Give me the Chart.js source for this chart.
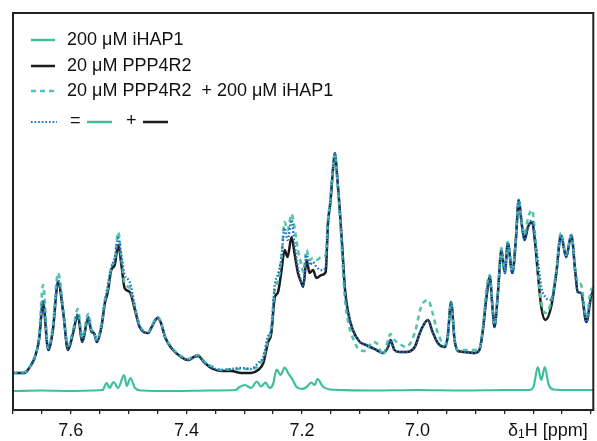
<!DOCTYPE html>
<html>
<head>
<meta charset="utf-8">
<script src="https://cdn.jsdelivr.net/npm/chart.js@4/dist/chart.umd.min.js"></script>
<style>
html,body{margin:0;padding:0;background:#fff;}
#wrap{width:597px;height:441px;}
</style>
</head>
<body>
<div id="wrap"><canvas id="c" width="597" height="441"></canvas></div>
<script>
// ---- data (chemical shift in ppm, intensity in arbitrary units) ----
const ppm = [7.700,7.680,7.671,7.662,7.655,7.648,7.639,7.631,7.622,7.613,7.605,7.596,7.588,7.580,7.570,7.564,7.560,7.555,7.547,7.541,
7.536,7.530,7.524,7.518,7.512,7.507,7.498,7.489,7.481,7.466,7.460,7.450,7.444,7.437,7.426,7.409,7.397,7.387,7.380,7.368,
7.354,7.339,7.322,7.305,7.288,7.276,7.267,7.259,7.253,7.247,7.242,7.236,7.230,7.225,7.218,7.213,7.207,7.201,7.198,7.192,
7.187,7.181,7.175,7.166,7.159,7.155,7.151,7.146,7.143,7.140,7.135,7.130,7.126,7.120,7.112,7.100,7.089,7.078,7.071,7.060,
7.051,7.047,7.040,7.031,7.020,7.005,6.994,6.982,6.974,6.965,6.953,6.948,6.942,6.936,6.930,6.919,6.901,6.893,6.887,6.881,
6.875,6.871,6.867,6.861,6.855,6.849,6.844,6.836,6.830,6.825,6.820,6.815,6.809,6.802,6.796,6.792,6.786,6.779,6.769,6.760,
6.752,6.743,6.734,6.727,6.723,6.717,6.708,6.700,6.696];

const ppp4r2 = [37,37,43,53,70,107,60,80,128,97,60,77,95,68,92,78,77,68,83,107,
118,140,145,165,143,122,118,100,83,77,83,92,87,73,62,53,50,53,54,47,
41,39,39,37,37,40,47,67,77,113,117,137,160,153,173,157,137,127,123,150,
137,140,132,135,138,187,207,243,257,240,203,160,123,97,80,68,65,62,60,57,
63,70,60,58,58,63,80,90,78,67,63,73,108,70,59,58,57,60,80,112,
133,107,83,117,160,137,167,137,170,210,187,170,183,188,163,137,103,90,103,137,
175,153,175,137,118,117,88,113,120];

const mixture = [37,38,43,54,72,125,62,84,137,100,64,80,101,72,96,80,78,70,86,110,
122,143,150,178,150,127,122,103,85,78,84,93,88,74,63,54,51,54,55,48,
43,40,41,41,41,44,52,70,82,122,128,150,188,180,196,183,160,145,138,160,
150,152,150,153,155,190,210,245,257,238,198,150,113,88,72,60,59,68,67,55,
70,76,70,66,63,77,103,110,97,77,65,74,108,70,60,60,60,62,82,120,
135,108,85,118,162,138,168,138,172,210,188,175,192,200,170,140,108,97,108,140,
177,155,175,140,128,125,92,120,122];

const sumSpectra = [37,37,43,53,71,110,61,81,130,98,61,78,96,69,93,79,77,68,84,108,
124,142,152,172,152,135,128,103,84,77,83,92,87,73,62,53,50,53,54,47,
42,40,41,42,41,47,53,73,82,125,135,150,182,170,190,166,142,128,125,155,
145,148,143,140,142,188,208,244,257,240,203,160,123,97,80,68,65,62,60,57,
63,70,60,58,58,63,80,90,78,67,63,73,108,70,59,58,57,60,80,112,
133,107,83,117,160,137,167,137,170,210,187,170,183,190,168,150,123,113,110,137,
175,153,175,137,118,117,88,113,120];

const ppmIhap = [7.700,7.650,7.600,7.560,7.545,7.538,7.533,7.526,7.518,7.508,7.503,7.497,7.489,7.478,7.420,7.360,7.315,7.308,7.299,7.288,
7.278,7.271,7.263,7.256,7.250,7.244,7.237,7.230,7.224,7.216,7.210,7.201,7.192,7.184,7.178,7.173,7.164,7.152,7.135,7.080,
7.000,6.920,6.850,6.806,6.799,6.792,6.786,6.780,6.773,6.764,6.740,6.696];
const ihap = [19,19.5,19,19.5,20,27,22,28,22,35,24,32,22,19.5,19,19.5,20,23,25,22,
28.5,23.5,27.5,22,26,40.5,35,42.5,37,30,23.5,21,23,27.5,25,31,23.5,20.5,20,19.5,
20,19.5,20,20,24,43,30,43,25,20.5,20,20];

const tickLabels = {"7.6":"7.6","7.4":"7.4","7.2":"7.2","7.0":"7.0"};
const axisTitle = ["δ","1","H [ppm]"];
const legendLabels = ["200 μM iHAP1","20 μM PPP4R2","20 μM PPP4R2  + 200 μM iHAP1"];

const COL_IHAP = '#3ebf9c';
const COL_MIX = '#55c3aa';
const COL_PPP = '#1b1b1b';
const COL_SUM = '#1f6fc2';
const FONT = '"Liberation Sans", Arial, Helvetica, sans-serif';

const pts = (xs, ys) => xs.map((x, i) => ({x: x, y: ys[i]}));

const framePlugin = {
  id: 'frame',
  afterDatasetsDraw(chart) {
    const a = chart.chartArea, c = chart.ctx;
    c.save();
    c.strokeStyle = '#222';
    c.lineWidth = 2;
    c.setLineDash([]);
    c.strokeRect(a.left, a.top, a.right - a.left, a.bottom - a.top);
    c.restore();
  }
};

const annotPlugin = {
  id: 'annot',
  afterDraw(chart) {
    const c = chart.ctx;
    c.save();
    c.font = '18px ' + FONT;
    c.fillStyle = '#111';
    c.textBaseline = 'middle';
    c.textAlign = 'left';
    function seg(x1, x2, y, color, w, dash) {
      c.beginPath();
      c.setLineDash(dash || []);
      c.strokeStyle = color;
      c.lineWidth = w;
      c.moveTo(x1, y); c.lineTo(x2, y);
      c.stroke();
    }
    seg(31, 55, 40, COL_IHAP, 2.5);
    c.fillText(legendLabels[0], 67, 40);
    seg(31, 55, 66, COL_PPP, 2.5);
    c.fillText(legendLabels[1], 67, 66);
    seg(31, 56, 91, '#4fc3c0', 2.5, [5, 4]);
    c.fillText(legendLabels[2], 67, 91);
    seg(31, 57, 122, COL_SUM, 2.2, [1.6, 2]);
    c.fillText('=', 70, 121);
    seg(87, 112, 122, COL_IHAP, 2.5);
    c.fillText('+', 126, 121);
    seg(143, 168, 122, COL_PPP, 2.5);
    // axis title
    const y = 431;
    let x = 508;
    c.font = '18px ' + FONT;
    c.fillText(axisTitle[0], x, y);
    x += c.measureText(axisTitle[0]).width;
    c.font = '12px ' + FONT;
    c.fillText(axisTitle[1], x, y + 4);
    x += c.measureText(axisTitle[1]).width;
    c.font = '18px ' + FONT;
    c.fillText(axisTitle[2], x, y);
    c.restore();
  }
};

new Chart(document.getElementById('c'), {
  type: 'line',
  data: {
    datasets: [
      {label: 'sum', data: pts(ppm, sumSpectra), borderColor: COL_SUM, borderWidth: 2.4, borderDash: [1.6, 2]},
      {label: 'mixture', data: pts(ppm, mixture), borderColor: COL_MIX, borderWidth: 2.6, borderDash: [5, 4]},
      {label: 'PPP4R2', data: pts(ppm, ppp4r2), borderColor: COL_PPP, borderWidth: 2.5},
      {label: 'iHAP1', data: pts(ppmIhap, ihap), borderColor: COL_IHAP, borderWidth: 2.2}
    ]
  },
  options: {
    responsive: false,
    animation: false,
    devicePixelRatio: 1,
    layout: {padding: {top: 13, left: 13, right: 3, bottom: 0}},
    plugins: {legend: {display: false}, tooltip: {enabled: false}},
    elements: {point: {radius: 0}, line: {cubicInterpolationMode: 'monotone', fill: false}},
    scales: {
      x: {
        type: 'linear', reverse: true, min: 6.696, max: 7.70,
        afterFit(s) { s.height = 31; },
        border: {display: false},
        grid: {display: true, drawOnChartArea: false, drawTicks: true, tickLength: 4, color: '#222', lineWidth: 1.3},
        ticks: {
          stepSize: 0.05, includeBounds: false, autoSkip: false, maxRotation: 0, padding: 6,
          color: '#111', font: {family: FONT, size: 18},
          callback(v) { const k = (Math.round(v * 10) / 10).toFixed(1); return (Math.abs(v * 10 - Math.round(v * 10)) < 1e-6 && tickLabels[k] && Math.round(v*10)%2===0) ? tickLabels[k] : ''; }
        }
      },
      y: {display: false, min: 0, max: 397}
    }
  },
  plugins: [framePlugin, annotPlugin]
});
</script>
</body>
</html>
